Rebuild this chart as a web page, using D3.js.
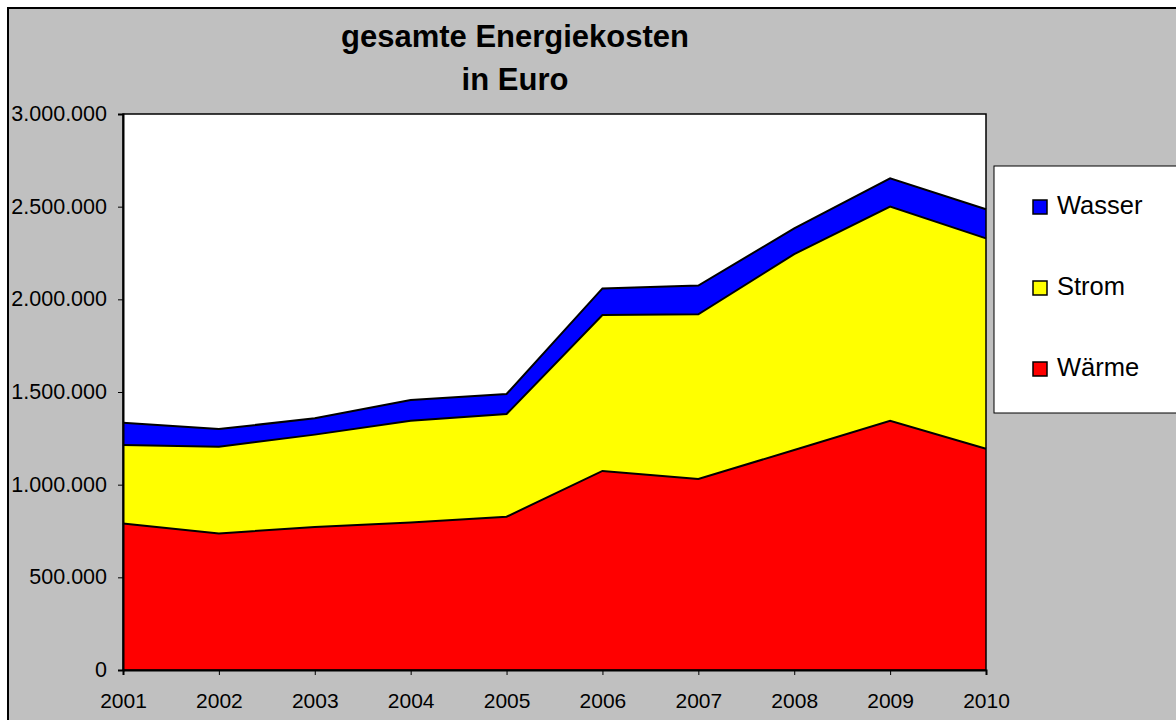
<!DOCTYPE html>
<html>
<head>
<meta charset="utf-8">
<script src="https://cdn.jsdelivr.net/npm/d3@7"></script>
<style>
  html, body { margin: 0; padding: 0; background: #ffffff; }
  svg { display: block; }
  text { font-family: "Liberation Sans", Arial, sans-serif; fill: #000; }
</style>
</head>
<body>
<svg id="chart" width="1176" height="720"></svg>
<script>
// ---- data ----
const years = ["2001","2002","2003","2004","2005","2006","2007","2008","2009","2010"];
const waerme = [791000, 737000, 772000, 796000, 827000, 1074000, 1031000, 1187000, 1344000, 1194000];
const strom  = [423000, 468000, 498000, 549000, 554000, 841000, 888000, 1057000, 1156000, 1135000];
const wasser = [120000,  95000,  88000, 112000, 108000, 144000, 155000, 139000, 153000, 157000];
const seriesNames = ["Wärme", "Strom", "Wasser"];
const seriesColors = ["#ff0000", "#ffff00", "#0000ff"];
const yTicks = [0, 500000, 1000000, 1500000, 2000000, 2500000, 3000000];
const titleLines = ["gesamte Energiekosten", "in Euro"];

// ---- layout ----
const svg = d3.select("#chart");
const plot = { left: 123, right: 986, top: 114, bottom: 670 };

// background frame
svg.append("rect").attr("x", 8).attr("y", 8).attr("width", 1180).attr("height", 730)
  .attr("fill", "#c0c0c0").attr("stroke", "#000").attr("stroke-width", 2);

// title
const title = svg.append("text").attr("text-anchor", "middle")
  .style("font-weight", "bold").style("font-size", "31px");
titleLines.forEach((t, i) => {
  title.append("tspan").attr("x", 515).attr("y", 47 + i * 43).text(t);
});

const x = d3.scalePoint().domain(years).range([plot.left, plot.right]);
const y = d3.scaleLinear().domain([0, 3000000]).range([plot.bottom, plot.top]);

// plot area
svg.append("rect").attr("x", plot.left).attr("y", plot.top)
  .attr("width", plot.right - plot.left).attr("height", plot.bottom - plot.top)
  .attr("fill", "#ffffff");

// stacked data
const table = years.map((yr, i) => ({ year: yr, "Wärme": waerme[i], "Strom": strom[i], "Wasser": wasser[i] }));
const stacked = d3.stack().keys(seriesNames)(table);

const area = d3.area()
  .x(d => x(d.data.year))
  .y0(d => y(d[0]))
  .y1(d => y(d[1]));
const topLine = d3.line()
  .x(d => x(d.data.year))
  .y(d => y(d[1]));

svg.selectAll("path.area").data(stacked).enter().append("path")
  .attr("class", "area")
  .attr("d", area)
  .attr("fill", (d, i) => seriesColors[i]);

svg.selectAll("path.top").data(stacked).enter().append("path")
  .attr("class", "top")
  .attr("d", topLine)
  .attr("fill", "none")
  .attr("stroke", "#000")
  .attr("stroke-width", 2)
  .attr("stroke-linejoin", "miter");

// plot border
svg.append("rect").attr("x", plot.left).attr("y", plot.top)
  .attr("width", plot.right - plot.left).attr("height", plot.bottom - plot.top)
  .attr("fill", "none").attr("stroke", "#000").attr("stroke-width", 1.5);

// axes
const fmt = v => d3.format(",")(v).replace(/,/g, ".");
const yAxis = d3.axisLeft(y).tickValues(yTicks).tickFormat(fmt).tickSize(5).tickPadding(11);
const gy = svg.append("g").attr("transform", `translate(${plot.left},0)`).call(yAxis);
gy.select(".domain").attr("stroke", "#000").attr("stroke-width", 2);
gy.selectAll(".tick line").attr("stroke", "#000").attr("stroke-width", 1);
gy.selectAll(".tick text").style("font-size", "21.5px").style("font-family", "Liberation Sans, Arial, sans-serif")
  .attr("fill", "#000").attr("dy", "0.3em");

const xAxis = d3.axisBottom(x).tickSize(5).tickPadding(18);
const gx = svg.append("g").attr("transform", `translate(0,${plot.bottom})`).call(xAxis);
gx.select(".domain").attr("stroke", "#000").attr("stroke-width", 2);
gx.selectAll(".tick line").attr("stroke", "#000").attr("stroke-width", 1);
gx.selectAll(".tick text").style("font-size", "21px").style("font-family", "Liberation Sans, Arial, sans-serif")
  .attr("fill", "#000");

// legend
const legend = svg.append("g");
legend.append("rect").attr("x", 994).attr("y", 166).attr("width", 200).attr("height", 247)
  .attr("fill", "#ffffff").attr("stroke", "#000").attr("stroke-width", 1);
const legendOrder = ["Wasser", "Strom", "Wärme"];
const legendY = [200, 281, 362];
legendOrder.forEach((name, i) => {
  const ci = seriesNames.indexOf(name);
  legend.append("rect").attr("x", 1033).attr("y", legendY[i]).attr("width", 14).attr("height", 14)
    .attr("fill", seriesColors[ci]).attr("stroke", "#000").attr("stroke-width", 1.5);
  legend.append("text").attr("x", 1057).attr("y", legendY[i] + 14)
    .style("font-size", "25.5px").text(name);
});
</script>
</body>
</html>
